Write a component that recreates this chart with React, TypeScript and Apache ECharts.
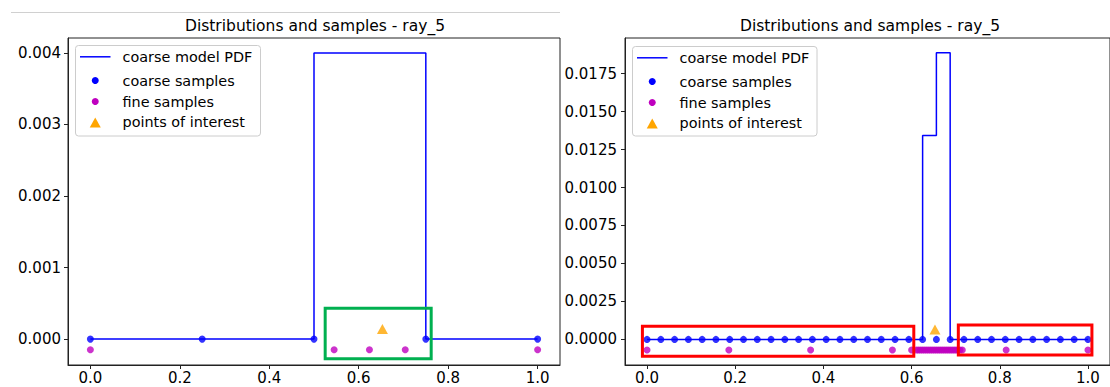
import React, { useEffect, useRef } from "react";
import * as echarts from "echarts";

const TITLE = "Distributions and samples - ray_5";
const LEGEND_LABELS = ["coarse model PDF", "coarse samples", "fine samples", "points of interest"];
const X_TICKS = [0, 0.2, 0.4, 0.6, 0.8, 1.0];

// Left panel
const leftYTicks = [0, 0.001, 0.002, 0.003, 0.004];
const leftCoarseX = [0, 0.25, 0.5, 0.75, 1.0];
const leftPdfValues = [0, 0, 0.004, 0];
const leftFineX = [0, 0.545, 0.624, 0.704, 1.0];
const leftFineY = -0.00015;
const leftPoiX = [0.653];
const leftPoiY = [0.00014];
const leftBoxes = [[0.525, 0.00043, 0.762, -0.000273]];

// Right panel
const rightYTicks = [0, 0.0025, 0.005, 0.0075, 0.01, 0.0125, 0.015, 0.0175];
const rightCoarseX = [
  0, 0.03125, 0.0625, 0.09375, 0.125, 0.15625, 0.1875, 0.21875, 0.25, 0.28125, 0.3125,
  0.34375, 0.375, 0.40625, 0.4375, 0.46875, 0.5, 0.53125, 0.5625, 0.59375, 0.625, 0.65625,
  0.6875, 0.71875, 0.75, 0.78125, 0.8125, 0.84375, 0.875, 0.90625, 0.9375, 0.96875, 1.0,
];
const rightPdfValues = [
  0, 0, 0, 0, 0, 0, 0, 0, 0, 0, 0, 0, 0, 0, 0, 0, 0, 0, 0, 0, 0.01343, 0.01887, 0, 0, 0, 0,
  0, 0, 0, 0, 0, 0,
];
const rightFineX = [
  0, 0.1855, 0.371, 0.5565, 0.6, 0.611, 0.6155, 0.62, 0.6245, 0.629, 0.6335, 0.638, 0.6425,
  0.647, 0.6515, 0.656, 0.6605, 0.665, 0.6695, 0.674, 0.6785, 0.683, 0.6875, 0.692, 0.6965,
  0.701, 0.7055, 0.71, 0.715, 0.8145, 1.0,
];
const rightFineY = -0.0007;
const rightPoiX = [0.653];
const rightPoiY = [0.00066];
const rightBoxes = [
  [-0.0105, 0.00087, 0.605, -0.00111],
  [0.706, 0.00095, 1.009, -0.00102],
];

const FONT = "DejaVu Sans";
const FS_TICK = 15;
const FS_LEGEND = 14.4;
const FS_TITLE = 15.5;
const BLUE = "#0000ff";
const MAGENTA = "#bf00bf";
const ORANGE = "#ffa500";

function stepData(edges: number[], values: number[]) {
  const d: number[][] = [];
  for (let i = 0; i < values.length; i++) d.push([edges[i], values[i]]);
  d.push([edges[edges.length - 1], values[values.length - 1]]);
  return d;
}

function xAxisCfg(gridIndex: number) {
  return {
    type: "value",
    gridIndex,
    min: -0.05,
    max: 1.05,
    splitLine: { show: false },
    axisLine: { show: true, onZero: false, lineStyle: { color: "#222", width: 1 } },
    axisTick: { show: true, customValues: X_TICKS, length: 4, lineStyle: { color: "#222" } },
    axisLabel: {
      customValues: X_TICKS,
      formatter: (v: number) => v.toFixed(1),
      color: "#000",
      fontSize: FS_TICK,
      fontFamily: FONT,
      margin: 5,
    },
  };
}

function yAxisCfg(gridIndex: number, min: number, max: number, ticks: number[], dec: number, margin: number) {
  return {
    type: "value",
    gridIndex,
    min,
    max,
    splitLine: { show: false },
    axisLine: { show: true, onZero: false, lineStyle: { color: "#222", width: 1 } },
    axisTick: { show: true, customValues: ticks, length: 4, lineStyle: { color: "#222" } },
    axisLabel: {
      customValues: ticks,
      formatter: (v: number) => v.toFixed(dec),
      color: "#000",
      fontSize: FS_TICK,
      fontFamily: FONT,
      margin,
    },
  };
}

function boxSeries(idx: number, data: number[][], color: string) {
  return {
    type: "custom",
    xAxisIndex: idx,
    yAxisIndex: idx,
    z: 20,
    silent: true,
    clip: false,
    data,
    encode: { x: [0, 2], y: [1, 3] },
    renderItem: (_p: any, api: any) => {
      const p1 = api.coord([api.value(0), api.value(1)]);
      const p2 = api.coord([api.value(2), api.value(3)]);
      return {
        type: "rect",
        shape: {
          x: Math.min(p1[0], p2[0]),
          y: Math.min(p1[1], p2[1]),
          width: Math.abs(p2[0] - p1[0]),
          height: Math.abs(p2[1] - p1[1]),
        },
        style: { fill: "none", stroke: color, lineWidth: 3 },
      };
    },
  };
}

function panelSeries(
  idx: number,
  edges: number[],
  pdf: number[],
  fineX: number[],
  fineY: number,
  poiX: number[],
  poiY: number[]
) {
  return [
    {
      type: "line",
      xAxisIndex: idx,
      yAxisIndex: idx,
      step: "end",
      data: stepData(edges, pdf),
      showSymbol: false,
      symbol: "none",
      lineStyle: { color: BLUE, width: 1.5 },
      z: 2,
    },
    {
      type: "scatter",
      xAxisIndex: idx,
      yAxisIndex: idx,
      data: edges.map((x) => [x, 0]),
      symbol: "circle",
      symbolSize: 7,
      itemStyle: { color: BLUE },
      z: 3,
    },
    {
      type: "scatter",
      xAxisIndex: idx,
      yAxisIndex: idx,
      data: fineX.map((x) => [x, fineY]),
      symbol: "circle",
      symbolSize: 7,
      itemStyle: { color: MAGENTA },
      z: 4,
    },
    {
      type: "scatter",
      xAxisIndex: idx,
      yAxisIndex: idx,
      data: poiX.map((x, i) => [x, poiY[i]]),
      symbol: "triangle",
      symbolSize: [11, 10],
      itemStyle: { color: ORANGE },
      z: 5,
    },
  ];
}

function legendGraphics(bx: number, by: number, bw: number, bh: number) {
  const rows = [11.3, 35, 56, 77.5];
  const hx0 = bx + 4.5;
  const hx1 = bx + 35;
  const hc = (hx0 + hx1) / 2;
  const tx = bx + 47;
  const els: any[] = [
    {
      type: "rect",
      shape: { x: bx, y: by, width: bw, height: bh, r: 3 },
      style: { fill: "rgba(255,255,255,0.8)", stroke: "#cccccc", lineWidth: 1 },
      z: 100,
    },
    {
      type: "line",
      shape: { x1: hx0, y1: by + rows[0], x2: hx1, y2: by + rows[0] },
      style: { stroke: BLUE, lineWidth: 1.5 },
      z: 101,
    },
    { type: "circle", shape: { cx: hc, cy: by + rows[1], r: 3.5 }, style: { fill: BLUE }, z: 101 },
    { type: "circle", shape: { cx: hc, cy: by + rows[2], r: 3.5 }, style: { fill: MAGENTA }, z: 101 },
    {
      type: "polygon",
      shape: {
        points: [
          [hc, by + rows[3] - 5.5],
          [hc + 5.5, by + rows[3] + 4.5],
          [hc - 5.5, by + rows[3] + 4.5],
        ],
      },
      style: { fill: ORANGE },
      z: 101,
    },
  ];
  LEGEND_LABELS.forEach((t, i) => {
    els.push({
      type: "text",
      x: tx,
      y: by + rows[i] - (i === 3 ? 1.5 : 0),
      style: {
        text: t,
        fill: "#000",
        font: `${FS_LEGEND}px "${FONT}"`,
        textAlign: "left",
        textVerticalAlign: "middle",
      },
      z: 101,
    });
  });
  return els;
}

export default function App() {
  const ref = useRef<HTMLDivElement>(null);
  useEffect(() => {
    if (!ref.current) return;
    const chart = echarts.init(ref.current, undefined, { renderer: "svg" });
    const titleStyle = { fontSize: FS_TITLE, fontWeight: "normal", color: "#000", fontFamily: FONT };
    const option: any = {
      animation: false,
      backgroundColor: "#ffffff",
      textStyle: { fontFamily: FONT },
      title: [
        { text: TITLE, left: 315, top: 18, padding: 0, textAlign: "center", textStyle: titleStyle },
        { text: TITLE, left: 870, top: 18, padding: 0, textAlign: "center", textStyle: titleStyle },
      ],
      grid: [
        { left: 68, top: 38, width: 492, height: 327, show: true, borderColor: "#222", borderWidth: 1, backgroundColor: "transparent" },
        { left: 625, top: 38, width: 490, height: 327, show: true, borderColor: "#222", borderWidth: 1, backgroundColor: "transparent" },
      ],
      xAxis: [xAxisCfg(0), xAxisCfg(1)],
      yAxis: [
        yAxisCfg(0, -0.000362, 0.004208, leftYTicks, 3, 7),
        yAxisCfg(1, -0.001685, 0.019845, rightYTicks, 4, 8),
      ],
      series: [
        ...panelSeries(0, leftCoarseX, leftPdfValues, leftFineX, leftFineY, leftPoiX, leftPoiY),
        ...panelSeries(1, rightCoarseX, rightPdfValues, rightFineX, rightFineY, rightPoiX, rightPoiY),
        boxSeries(0, leftBoxes, "#00b050"),
        boxSeries(1, rightBoxes, "#ff0000"),
      ],
      graphic: [
        {
          type: "line",
          shape: { x1: 11, y1: 12.5, x2: 560, y2: 12.5 },
          style: { stroke: "#d0d0d0", lineWidth: 1 },
        },
        ...legendGraphics(75.5, 45.5, 185, 90.5),
        ...legendGraphics(632.5, 46.5, 184.5, 89.5),
      ],
    };
    chart.setOption(option);
    return () => chart.dispose();
  }, []);
  return (
    <div
      ref={ref}
      style={{ position: "absolute", left: 0, top: 0, width: 1110, height: 387 }}
    />
  );
}
